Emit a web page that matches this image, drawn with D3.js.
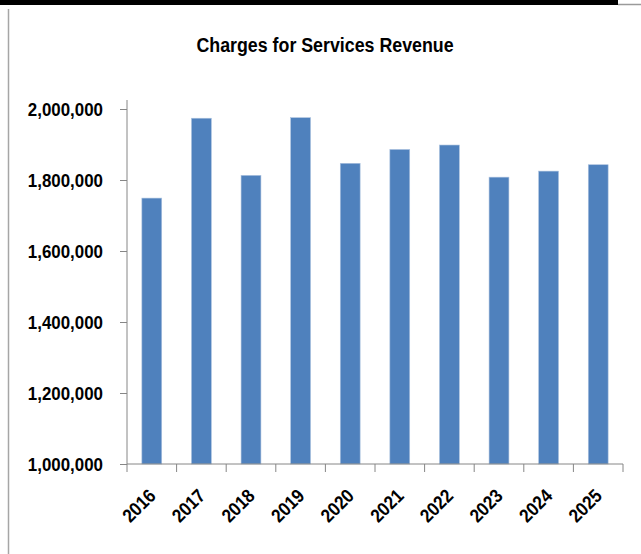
<!DOCTYPE html>
<html>
<head>
<meta charset="utf-8">
<script src="https://cdn.jsdelivr.net/npm/d3@7"></script>
<style>
  body { margin: 0; background: #fff; }
  text { font-family: "Liberation Sans", Arial, sans-serif; font-weight: bold; fill: #000; }
</style>
</head>
<body>
<div id="chart"></div>
<script>
const years = ['2016', '2017', '2018', '2019', '2020', '2021', '2022', '2023', '2024', '2025']
const revenue = [1749000, 1974000, 1813000, 1975500, 1847000, 1886000, 1898500, 1808000, 1825000, 1843000]
const yTicks = [1000000, 1200000, 1400000, 1600000, 1800000, 2000000]
const title = 'Charges for Services Revenue'

const width = 641
const height = 554
const axisColor = '#868686'
const narrow = 0.89 // squeeze Liberation Sans toward a Calibri-ish width

const svg = d3.select('#chart').append('svg')
  .attr('width', width)
  .attr('height', height)

// page frame bits
svg.append('rect').attr('x', 0).attr('y', 0).attr('width', 618).attr('height', 5).attr('fill', '#000')
svg.append('line').attr('x1', 618).attr('x2', width).attr('y1', 4.5).attr('y2', 4.5)
  .attr('stroke', '#9a9a9a').attr('stroke-width', 1.5)
svg.append('line').attr('x1', 8.5).attr('x2', 8.5).attr('y1', 9).attr('y2', height)
  .attr('stroke', '#a6a6a6').attr('stroke-width', 1.5)

svg.append('text')
  .attr('transform', `translate(325,52) scale(${narrow},1)`)
  .attr('text-anchor', 'middle')
  .style('font-size', '20px')
  .text(title)

const x = d3.scaleBand()
  .domain(years)
  .range([127, 623])
  .paddingInner(0.6)
  .paddingOuter(0.3)

const y = d3.scaleLinear()
  .domain([1000000, 2000000])
  .range([464, 109])

// bars
svg.selectAll('rect.bar')
  .data(years)
  .join('rect')
  .attr('class', 'bar')
  .attr('x', d => x(d))
  .attr('width', x.bandwidth())
  .attr('y', (d, i) => y(revenue[i]))
  .attr('height', (d, i) => y(1000000) - y(revenue[i]))
  .attr('fill', '#4f81bd')
  .attr('stroke', '#a9c0de')
  .attr('stroke-width', 0.6)

// y axis
const yAxis = svg.append('g')
  .attr('transform', 'translate(127,0)')
  .call(d3.axisLeft(y).tickValues(yTicks).tickSize(7).tickSizeOuter(0).tickFormat(d3.format(',')))
yAxis.select('.domain').remove()
yAxis.selectAll('.tick line').attr('stroke', axisColor)
yAxis.selectAll('.tick text')
  .attr('x', 0)
  .attr('transform', `translate(-24,0) scale(${narrow},1)`)
  .style('font-size', '19px')
yAxis.append('line')
  .attr('x1', 0).attr('x2', 0)
  .attr('y1', y.range()[1] - 9).attr('y2', y.range()[0])
  .attr('stroke', axisColor)

// x axis
const xAxis = svg.append('g').attr('transform', `translate(0,${y(1000000)})`)
xAxis.append('line')
  .attr('x1', x.range()[0]).attr('x2', x.range()[1])
  .attr('stroke', axisColor)
xAxis.selectAll('line.tick')
  .data(d3.range(years.length + 1))
  .join('line')
  .attr('class', 'tick')
  .attr('x1', i => x.range()[0] + i * x.step())
  .attr('x2', i => x.range()[0] + i * x.step())
  .attr('y1', 0).attr('y2', 8)
  .attr('stroke', axisColor)
xAxis.selectAll('text')
  .data(years)
  .join('text')
  .attr('text-anchor', 'end')
  .attr('transform', d => `translate(${x(d) + x.bandwidth() / 2 + 5},33) rotate(-45) scale(${narrow},1)`)
  .style('font-size', '19px')
  .text(d => d)
</script>
</body>
</html>
